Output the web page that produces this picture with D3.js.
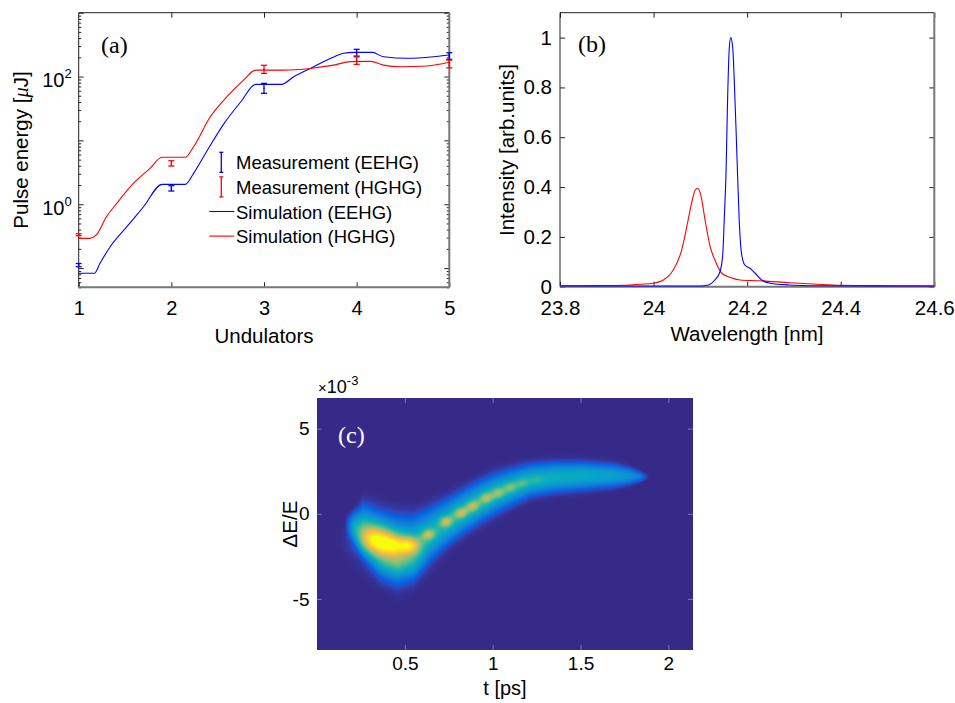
<!DOCTYPE html>
<html>
<head>
<meta charset="utf-8">
<script src="https://cdn.jsdelivr.net/npm/d3@7"></script>
<style>
  body { margin: 0; background: #fff; }
  svg text { font-family: "Liberation Sans", Arial, Helvetica, sans-serif; fill: #000; }
  .tag { font-family: "Liberation Serif", "Times New Roman", serif !important; font-size: 24px; }
</style>
</head>
<body>
<svg id="fig" width="955" height="703"></svg>
<script>
// ---------- panel (a): pulse energy vs undulators ----------
const undulators = [1, 2, 3, 4, 5];
const measEEHG     = [0.112, 1.77, 65.3, 233, 210];
const measEEHGLow  = [0.105, 1.61, 54.6, 204, 186];
const measEEHGHigh = [0.118, 1.95, 78.2, 267, 236];
const measHGHG     = [0.333, 4.37, 130, 180, 158];
const measHGHGLow  = [0.322, 3.96, 112, 155, 137];
const measHGHGHigh = [0.345, 4.80, 150, 210, 181];

const simEEHGx = [1.0, 1.17, 1.23, 1.34, 1.52, 1.70, 1.90, 2.15, 2.24, 2.39, 2.57, 2.75, 2.91, 3.19, 3.32, 3.5, 3.72, 3.86, 3.97, 4.17, 4.29, 4.55, 4.83, 5.0];
const simEEHG  = [0.083, 0.083, 0.119, 0.216, 0.445, 0.914, 2.05, 2.05, 3.05, 7.06, 18.5, 40.3, 75.5, 75.5, 99.3, 134, 193, 231, 239, 239, 204, 193, 204, 217];
const simHGHGx = [1.0, 1.12, 1.19, 1.30, 1.41, 1.59, 1.77, 1.90, 2.15, 2.24, 2.42, 2.60, 2.78, 2.91, 3.03, 3.21, 3.5, 3.75, 3.93, 4.15, 4.29, 4.47, 4.76, 5.0];
const simHGHG  = [0.292, 0.292, 0.330, 0.637, 1.03, 2.12, 3.65, 5.43, 5.43, 7.96, 23.4, 48.3, 88.1, 126, 126, 126, 134, 151, 171, 173, 151, 142, 146, 167];

const legendLabels = ["Measurement (EEHG)", "Measurement (HGHG)", "Simulation (EEHG)", "Simulation (HGHG)"];

// ---------- panel (b): spectra ----------
const wlEEHG  = [23.8, 24.0, 24.1, 24.117, 24.131, 24.142, 24.148, 24.151, 24.155, 24.158, 24.162, 24.165, 24.169, 24.173, 24.178, 24.183, 24.188, 24.195, 24.206, 24.217, 24.231, 24.249, 24.29, 24.35, 24.45, 24.6];
const intEEHG = [0.003, 0.003, 0.003, 0.007, 0.027, 0.06, 0.134, 0.268, 0.468, 0.736, 0.963, 1.0, 0.963, 0.802, 0.535, 0.268, 0.134, 0.087, 0.074, 0.054, 0.027, 0.014, 0.007, 0.004, 0.003, 0.003];
const wlHGHG  = [23.8, 23.9, 23.95, 23.971, 23.999, 24.021, 24.042, 24.06, 24.071, 24.081, 24.089, 24.094, 24.101, 24.11, 24.121, 24.131, 24.146, 24.163, 24.185, 24.227, 24.292, 24.35, 24.4, 24.5, 24.6];
const intHGHG = [0.004, 0.005, 0.007, 0.01, 0.014, 0.027, 0.067, 0.147, 0.241, 0.334, 0.388, 0.395, 0.368, 0.268, 0.16, 0.107, 0.054, 0.038, 0.027, 0.024, 0.016, 0.01, 0.006, 0.004, 0.003];

// ---------- panel (c): longitudinal phase space (t in ps, dE/E in 1e-3) ----------
const beamT      = [0.16, 0.21, 0.265, 0.36, 0.455, 0.55, 0.644, 0.74, 0.83, 0.93, 1.02, 1.117, 1.21, 1.35, 1.5, 1.685, 1.78, 1.84, 1.89];
const beamCenter = [-0.7, -0.75, -0.95, -1.75, -2.15, -2.0, -1.2, -0.5, 0.1, 0.72, 1.2, 1.6, 1.95, 2.15, 2.22, 2.24, 2.22, 2.18, 2.15];
const beamHalf   = [0.5, 0.85, 1.5, 1.85, 1.95, 1.8, 1.5, 1.32, 1.25, 1.2, 1.15, 1.05, 0.95, 0.88, 0.82, 0.68, 0.5, 0.3, 0.14];
const beamLevel  = [0, 0.36, 0.45, 0.48, 0.48, 0.46, 0.44, 0.44, 0.44, 0.44, 0.43, 0.42, 0.41, 0.41, 0.4, 0.36, 0.3, 0.22, 0];

const hotT       = [0.34, 0.44, 0.53, 0.45, 0.3];
const hotE       = [-1.6, -1.8, -1.85, -2.75, -1.0];
const hotLevel   = [0.52, 0.32, 0.4, 0.2, 0.08];
const hotSpreadT = [0.07, 0.05, 0.04, 0.09, 0.06];
const hotSpreadE = [0.55, 0.4, 0.35, 0.6, 0.5];

const fringeT     = [0.634, 0.735, 0.82, 0.888, 0.964, 1.032, 1.1, 1.17, 1.25];
const fringeE     = [-1.23, -0.47, 0.04, 0.45, 0.92, 1.22, 1.55, 1.8, 2.0];
const fringeLevel = [0.3, 0.31, 0.31, 0.29, 0.27, 0.23, 0.19, 0.14, 0.08];

// parula colormap anchors
const parulaStops = [
  [0.2081,0.1663,0.5292],[0.1959,0.2645,0.7279],[0.0117,0.3875,0.8820],[0.0498,0.4586,0.8641],
  [0.0793,0.5200,0.8312],[0.0343,0.5966,0.8199],[0.0228,0.6535,0.7768],[0.0843,0.6928,0.7062],
  [0.2178,0.7250,0.6193],[0.3953,0.7459,0.5244],[0.5709,0.7485,0.4494],[0.7184,0.7411,0.3905],
  [0.8507,0.7299,0.3360],[0.9739,0.7314,0.2666],[0.9880,0.8066,0.1794],[0.9589,0.8949,0.1132],
  [0.9763,0.9831,0.0538]];
const parulaPos = [0, 4, 8, 12, 16, 20, 24, 28, 32, 36, 40, 44, 48, 52, 56, 60, 63].map(k => k / 63);

const svg = d3.select('#fig');
svg.append('rect').attr('width', 955).attr('height', 703).attr('fill', '#fff');

function frame(g, x, y) {
  const [x0, x1] = x.range(), [y1, y0] = y.range();
  g.append('line').attr('x1', x0).attr('x2', x1).attr('y1', y0).attr('y2', y0).attr('stroke', '#222').attr('stroke-width', 1);
  g.append('line').attr('x1', x0).attr('x2', x0).attr('y1', y0).attr('y2', y1).attr('stroke', '#222').attr('stroke-width', 1);
  g.append('line').attr('x1', x0).attr('x2', x1).attr('y1', y1).attr('y2', y1).attr('stroke', '#777').attr('stroke-width', 2);
  g.append('line').attr('x1', x1).attr('x2', x1).attr('y1', y0).attr('y2', y1).attr('stroke', '#777').attr('stroke-width', 2);
}

function tidy(sel, color) {
  sel.select('.domain').remove();
  sel.selectAll('.tick line').attr('stroke', color || '#222');
  sel.selectAll('.tick text').attr('font-family', null).attr('font-size', null);
  return sel;
}

// ================= panel (a) =================
const xa = d3.scaleLinear().domain([1, 5]).range([78.7, 449.3]);
const ya = d3.scaleLog().domain([0.05, 1000]).range([287.3, 12.7]);
const ga = svg.append('g');

const majorA = [0.1, 1, 10, 100, 1000];
const minorA = [];
[-2, -1, 0, 1, 2].forEach(d => { for (let k = 2; k <= 9; k++) { const v = k * Math.pow(10, d); if (v >= 0.05 && v < 1000) minorA.push(v); } });

tidy(ga.append('g').attr('transform', `translate(0,${ya.range()[0]})`)
  .call(d3.axisBottom(xa).tickValues(undulators).tickFormat(d3.format('d')).tickSize(-5).tickPadding(13.5)))
  .selectAll('text').style('font-size', '20px');
tidy(ga.append('g').attr('transform', `translate(0,${ya.range()[1]})`)
  .call(d3.axisTop(xa).tickValues(undulators.slice(1, 4)).tickFormat('').tickSize(-5)));
[[d3.axisLeft, xa.range()[0]], [d3.axisRight, xa.range()[1]]].forEach(([ax, px]) => {
  tidy(ga.append('g').attr('transform', `translate(${px},0)`).call(ax(ya).tickValues(majorA).tickFormat('').tickSize(-5)));
  tidy(ga.append('g').attr('transform', `translate(${px},0)`).call(ax(ya).tickValues(minorA).tickFormat('').tickSize(-2.5)));
});
[1, 100].forEach(v => {
  const t = ga.append('text').attr('x', xa.range()[0] - 7).attr('y', ya(v) + 10.8)
    .attr('text-anchor', 'end').style('font-size', '20px');
  t.append('tspan').text('10');
  t.append('tspan').attr('dy', -9).style('font-size', '13px').text(String(Math.round(Math.log10(v))));
});
frame(ga, xa, ya);

const lineA = (xs, vs) => d3.line().curve(d3.curveMonotoneX).x((d, i) => xa(xs[i])).y(d => ya(d))(vs);
ga.append('path').attr('d', lineA(simEEHGx, simEEHG)).attr('fill', 'none').attr('stroke', '#0000ff').attr('stroke-width', 1.1);
ga.append('path').attr('d', lineA(simHGHGx, simHGHG)).attr('fill', 'none').attr('stroke', '#ff0000').attr('stroke-width', 1.1);

function errorBars(vals, lo, hi, color) {
  undulators.forEach((u, i) => {
    const px = xa(u);
    ga.append('line').attr('x1', px).attr('x2', px).attr('y1', ya(lo[i])).attr('y2', ya(hi[i])).attr('stroke', color).attr('stroke-width', 1.3);
    [lo[i], hi[i]].forEach(v => ga.append('line').attr('x1', px - 3).attr('x2', px + 3).attr('y1', ya(v)).attr('y2', ya(v)).attr('stroke', color).attr('stroke-width', 1.3));
    ga.append('circle').attr('cx', px).attr('cy', ya(vals[i])).attr('r', 0.8).attr('fill', color);
  });
}
errorBars(measEEHG, measEEHGLow, measEEHGHigh, '#0000ff');
errorBars(measHGHG, measHGHGLow, measHGHGHigh, '#ff0000');

// legend
const legColors = ['#0000ff', '#ff0000', '#0000ff', '#ff0000'];
legendLabels.forEach((lab, i) => {
  const base = 169.3 + i * 24.6;
  const cy = base - 7;
  if (i < 2) {
    ga.append('line').attr('x1', 221.3).attr('x2', 221.3).attr('y1', cy - 10).attr('y2', cy + 10).attr('stroke', legColors[i]).attr('stroke-width', 1.3);
    [cy - 10, cy + 10].forEach(yy => ga.append('line').attr('x1', 219.3).attr('x2', 223.3).attr('y1', yy).attr('y2', yy).attr('stroke', legColors[i]).attr('stroke-width', 1.3));
  } else {
    ga.append('line').attr('x1', 209.3).attr('x2', 234.3).attr('y1', cy).attr('y2', cy).attr('stroke', legColors[i]).attr('stroke-width', 1.1);
  }
  ga.append('text').attr('x', 236).attr('y', base).style('font-size', '18.5px').text(lab);
});

ga.append('text').attr('class', 'tag').attr('x', 101).attr('y', 53).text('(a)');
const yla = ga.append('text').attr('transform', 'translate(28,150) rotate(-90)').attr('text-anchor', 'middle').style('font-size', '20.5px');
yla.append('tspan').text('Pulse energy [');
yla.append('tspan').style('font-style', 'italic').style('font-family', '"Liberation Serif", serif').text('μ');
yla.append('tspan').text('J]');
ga.append('text').attr('x', 264).attr('y', 342.5).attr('text-anchor', 'middle').style('font-size', '20.5px').text('Undulators');

// ================= panel (b) =================
const xb = d3.scaleLinear().domain([23.8, 24.6]).range([560, 934.3]);
const yb = d3.scaleLinear().domain([0, 1.1]).range([286.7, 12.7]);
const gb = svg.append('g');
const xtB = [23.8, 24, 24.2, 24.4, 24.6];
const ytB = [0, 0.2, 0.4, 0.6, 0.8, 1];
tidy(gb.append('g').attr('transform', `translate(0,${yb.range()[0]})`)
  .call(d3.axisBottom(xb).tickValues(xtB).tickFormat(d3.format('')).tickSize(-5).tickPadding(13.8)))
  .selectAll('text').style('font-size', '20.5px');
tidy(gb.append('g').attr('transform', `translate(0,${yb.range()[1]})`).call(d3.axisTop(xb).tickValues(xtB).tickFormat('').tickSize(-5)));
tidy(gb.append('g').attr('transform', `translate(${xb.range()[0]},0)`)
  .call(d3.axisLeft(yb).tickValues(ytB).tickFormat(d3.format('')).tickSize(-5).tickPadding(8)))
  .selectAll('text').style('font-size', '20.5px');
tidy(gb.append('g').attr('transform', `translate(${xb.range()[1]},0)`).call(d3.axisRight(yb).tickValues(ytB).tickFormat('').tickSize(-5)));
frame(gb, xb, yb);

const lineB = (xs, vs) => d3.line().curve(d3.curveMonotoneX).x((d, i) => xb(xs[i])).y(d => yb(d))(vs);
gb.append('path').attr('d', lineB(wlHGHG, intHGHG)).attr('fill', 'none').attr('stroke', '#ff0000').attr('stroke-width', 1.1);
gb.append('path').attr('d', lineB(wlEEHG, intEEHG)).attr('fill', 'none').attr('stroke', '#0000ff').attr('stroke-width', 1.1);

gb.append('text').attr('class', 'tag').attr('x', 578).attr('y', 52).text('(b)');
gb.append('text').attr('transform', 'translate(513.5,150) rotate(-90)').attr('text-anchor', 'middle').style('font-size', '20.5px').text('Intensity [arb.units]');
gb.append('text').attr('x', 747).attr('y', 340.7).attr('text-anchor', 'middle').style('font-size', '20.5px').text('Wavelength [nm]');

// ================= panel (c) =================
const xc = d3.scaleLinear().domain([0, 2.14]).range([317, 693]);
const yc = d3.scaleLinear().domain([-8, 6.8]).range([650, 398]);
const gc = svg.append('g');

const parula = d3.scaleLinear().domain(parulaPos)
  .range(parulaStops.map(c => d3.rgb(c[0] * 255, c[1] * 255, c[2] * 255))).interpolate(d3.interpolateRgb).clamp(true);
const lut = d3.range(256).map(i => d3.rgb(parula(i / 255)));

const centerAt = d3.scaleLinear().domain(beamT).range(beamCenter).clamp(true);
const halfAt = d3.scaleLinear().domain(beamT).range(beamHalf).clamp(true);
const levelAt = d3.scaleLinear().domain(beamT).range(beamLevel).clamp(true);

const W = xc.range()[1] - xc.range()[0], H = yc.range()[0] - yc.range()[1];
const canvas = document.createElement('canvas');
canvas.width = W; canvas.height = H;
const ctx = canvas.getContext('2d');
const img = ctx.createImageData(W, H);

// fringe ellipses lean about half as steeply as the beam itself
const fringes = fringeT.map((t, i) => {
  const ang = 0.5 * Math.atan2(yc(centerAt(t + 0.01)) - yc(centerAt(t - 0.01)), xc(t + 0.01) - xc(t - 0.01));
  return { px: xc(t), py: yc(fringeE[i]), c: Math.cos(ang), s: Math.sin(ang), a: fringeLevel[i] };
});
const SIG_ALONG = 4.8, SIG_ACROSS = 3.8;

for (let i = 0; i < W; i++) {
  const px = xc.range()[0] + i + 0.5;
  const t = xc.invert(px);
  const c = centerAt(t), h = halfAt(t);
  const A = (t < beamT[0] || t > beamT[beamT.length - 1]) ? 0 : levelAt(t);
  for (let j = 0; j < H; j++) {
    const py = yc.range()[1] + j + 0.5;
    const e = yc.invert(py);
    const r = Math.abs(e - c) / h;
    // flat-topped body plus a softer core
    let v = A * (0.45 * Math.exp(-0.5 * Math.pow(r * 1.15, 4)) + 0.55 * Math.exp(-0.5 * Math.pow(r * 2.0, 2)));
    for (let k = 0; k < hotT.length; k++) {
      const dt = (t - hotT[k]) / hotSpreadT[k], de = (e - hotE[k]) / hotSpreadE[k];
      v += hotLevel[k] * Math.exp(-0.5 * (dt * dt + de * de));
    }
    for (const f of fringes) {
      const dx = px - f.px, dy = py - f.py;
      const u = (dx * f.c + dy * f.s) / SIG_ALONG, w = (-dx * f.s + dy * f.c) / SIG_ACROSS;
      v += f.a * Math.exp(-0.5 * (u * u + w * w));
    }
    const col = lut[Math.max(0, Math.min(255, Math.round(v * 255)))];
    const p = (j * W + i) * 4;
    img.data[p] = col.r; img.data[p + 1] = col.g; img.data[p + 2] = col.b; img.data[p + 3] = 255;
  }
}
ctx.putImageData(img, 0, 0);
gc.append('image').attr('x', xc.range()[0]).attr('y', yc.range()[1]).attr('width', W).attr('height', H)
  .attr('href', canvas.toDataURL());

const xtC = [0.5, 1, 1.5, 2];
const ytC = [-5, 0, 5];
const tickCol = 'rgba(255,255,255,0.35)';
tidy(gc.append('g').attr('transform', `translate(0,${yc.range()[0]})`)
  .call(d3.axisBottom(xc).tickValues(xtC).tickFormat(d3.format('')).tickSize(-5).tickPadding(6.5)), tickCol)
  .selectAll('text').style('font-size', '19px');
tidy(gc.append('g').attr('transform', `translate(0,${yc.range()[1]})`).call(d3.axisTop(xc).tickValues(xtC).tickFormat('').tickSize(-5)), tickCol);
tidy(gc.append('g').attr('transform', `translate(${xc.range()[0]},0)`)
  .call(d3.axisLeft(yc).tickValues(ytC).tickFormat(d3.format('')).tickSize(-5).tickPadding(7.5)), tickCol)
  .selectAll('text').style('font-size', '19px').text(d => d < 0 ? '-' + Math.abs(d) : d);
tidy(gc.append('g').attr('transform', `translate(${xc.range()[1]},0)`).call(d3.axisRight(yc).tickValues(ytC).tickFormat('').tickSize(-5)), tickCol);

const mult = gc.append('text').attr('x', 318).attr('y', 393).style('font-size', '18px');
mult.append('tspan').style('font-size', '15px').text('×');
mult.append('tspan').text('10');
mult.append('tspan').attr('dy', -8).style('font-size', '13px').text('-3');

gc.append('text').attr('class', 'tag').attr('x', 338).attr('y', 443).style('fill', '#fff').text('(c)');
gc.append('text').attr('transform', 'translate(296.5,524) rotate(-90)').attr('text-anchor', 'middle').style('font-size', '20.5px').text('ΔE/E');
gc.append('text').attr('x', 505).attr('y', 695).attr('text-anchor', 'middle').style('font-size', '20px').text('t [ps]');
</script>
</body>
</html>
